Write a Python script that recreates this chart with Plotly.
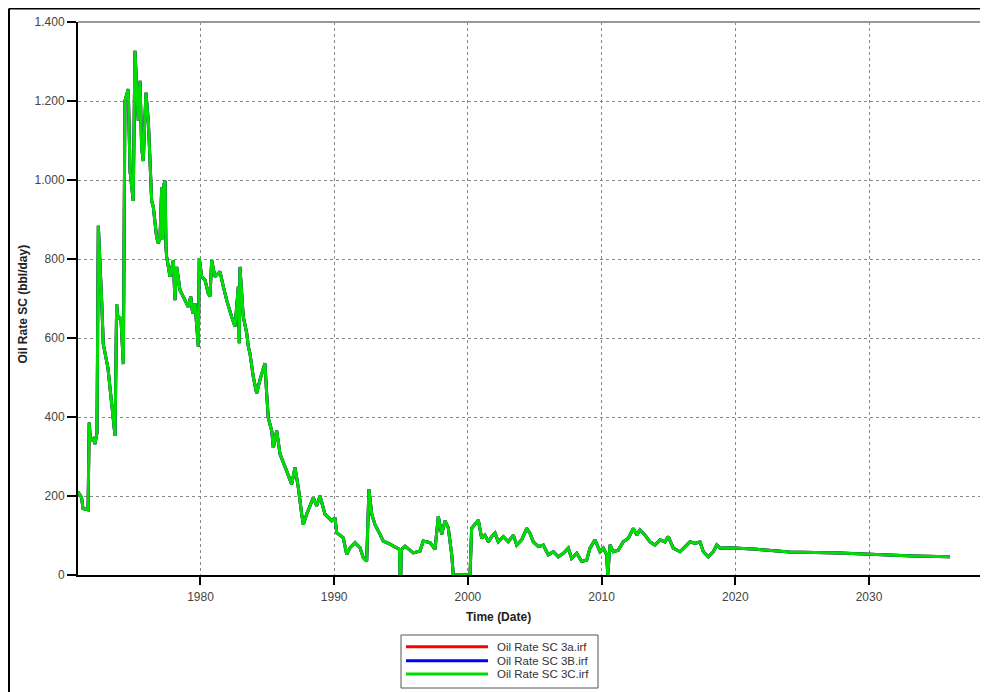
import plotly.graph_objects as go

# Decimal years and oil rate (bbl/day)
years = [1970.82, 1971.11, 1971.21, 1971.59, 1971.68, 1971.77, 1971.96, 1972.11, 1972.26, 1972.36,
         1972.61, 1972.73, 1973.08, 1973.36, 1973.61, 1973.73, 1973.83, 1974.05, 1974.23, 1974.35,
         1974.60, 1974.73, 1974.97, 1975.10, 1975.35, 1975.48, 1975.60, 1975.72, 1975.92, 1976.10,
         1976.22, 1976.35, 1976.47, 1976.72, 1976.84, 1976.97, 1977.10, 1977.16, 1977.27, 1977.35,
         1977.42, 1977.47, 1977.72, 1977.97, 1978.09, 1978.22, 1978.47, 1978.71, 1979.09, 1979.27,
         1979.42, 1979.59, 1979.72, 1979.84, 1979.91, 1980.09, 1980.34, 1980.58, 1980.71, 1980.84,
         1981.08, 1981.46, 1981.71, 1981.96, 1982.33, 1982.58, 1982.75, 1982.83, 1982.90, 1982.95,
         1983.20, 1983.46, 1983.58, 1983.70, 1983.95, 1984.20, 1984.45, 1984.82, 1984.95,
         1985.07, 1985.33, 1985.45, 1985.70, 1985.95, 1986.45,
         1986.82, 1987.07, 1987.32, 1987.57, 1987.69, 1987.94, 1988.44, 1988.69, 1988.94, 1989.31,
         1989.81, 1990.06, 1990.19, 1990.68, 1990.94, 1991.18, 1991.56, 1991.93, 1992.18, 1992.43,
         1992.60, 1992.81, 1993.05, 1993.43, 1993.67, 1994.17, 1994.67, 1994.88, 1994.92, 1994.98,
         1995.03, 1995.30, 1995.92, 1996.42, 1996.66, 1997.17, 1997.54, 1997.79, 1998.04, 1998.29,
         1998.53, 1998.79, 1998.91, 2000.16, 2000.28, 2000.78, 2001.03, 2001.28, 2001.53, 2001.78,
         2002.03, 2002.27, 2002.65, 2003.02, 2003.40, 2003.65, 2004.02, 2004.40, 2004.64, 2004.89,
         2005.27, 2005.64, 2006.01, 2006.39, 2006.76, 2007.14, 2007.51, 2007.76, 2008.14, 2008.51,
         2008.89, 2009.13, 2009.51, 2009.88, 2010.13, 2010.38, 2010.46, 2010.63, 2010.88, 2011.25,
         2011.62, 2012.00, 2012.37, 2012.63, 2012.87, 2013.25, 2013.62, 2013.99, 2014.37, 2014.74,
         2014.99, 2015.36, 2015.86, 2016.24, 2016.61, 2016.99, 2017.36, 2017.61, 2017.98, 2018.36,
         2018.61, 2018.86, 2019.60, 2021.60, 2024.09, 2027.83, 2030.08, 2033.31, 2036.06]
oil_rate = [211, 196, 168, 165, 386, 340, 345, 332, 360, 884,
            694, 585, 524, 440, 352, 686, 651, 650, 534, 1200,
            1230, 1023, 947, 1327, 1150, 1251, 1082, 1048, 1221, 1150,
            1040, 947, 932, 856, 840, 850, 981, 850, 990, 998,
            830, 806, 755, 797, 696, 780, 721, 705, 679, 705,
            662, 688, 637, 578, 802, 755, 747, 713, 705, 797,
            755, 768, 730, 696, 654, 629, 696, 730, 587, 780,
            654, 612, 578, 561, 502, 460, 494, 536, 460,
            398, 365, 322, 365, 306, 263,
            230, 272, 221, 154, 128, 154, 196, 175, 200, 154,
            137, 145, 107, 94, 52, 69, 82, 69, 44, 35,
            217, 154, 128, 103, 86, 78, 69, 65, 0, 0,
            65, 73, 56, 61, 86, 82, 65, 149, 103, 137,
            120, 52, 0, 0, 118, 139, 93, 101, 84, 97,
            106, 84, 97, 84, 101, 76, 89, 118, 106, 84,
            72, 76, 51, 59, 46, 55, 68, 42, 55, 34,
            38, 68, 89, 59, 68, 51, 0, 76, 59, 63,
            84, 93, 118, 101, 114, 101, 84, 76, 89, 84,
            97, 68, 59, 72, 84, 80, 84, 59, 46, 59,
            76, 68, 69, 65, 58, 56, 52, 48, 46]

series_names = ["Oil Rate SC 3a.irf", "Oil Rate SC 3B.irf", "Oil Rate SC 3C.irf"]
series_colors = ["#ff0000", "#0000ff", "#00dd00"]

x_ticks = [1980, 1990, 2000, 2010, 2020, 2030]
y_ticks = [0, 200, 400, 600, 800, 1000, 1200, 1400]
y_tick_text = ["0", "200", "400", "600", "800", "1.000", "1.200", "1.400"]

fig = go.Figure()
for name, color in zip(series_names, series_colors):
    fig.add_trace(go.Scatter(x=years, y=oil_rate, mode="lines", name=name,
                             line=dict(color=color, width=3), showlegend=False))

font_family = "Liberation Sans, Arial, sans-serif"

# geometry of the figure (the page adds an 8px body margin)
W, H = 980, 684
L, T, B = 70, 14, 117
PW, PH = W - L, H - T - B


def px(xl):
    return (xl - L) / PW


def py(yl):
    return (H - B - yl) / PH


fig.update_layout(
    width=W, height=H,
    margin=dict(l=L, r=0, t=T, b=B, autoexpand=False),
    paper_bgcolor="white", plot_bgcolor="white",
    font=dict(family=font_family, size=11, color="#333"),
    showlegend=False,
    xaxis=dict(range=[1970.84, 2038.9], tickvals=x_ticks, ticktext=[str(t) for t in x_ticks],
               showgrid=True, gridcolor="#888", griddash="dot", gridwidth=1,
               showline=True, linecolor="black", linewidth=2,
               ticks="outside", ticklen=8, tickwidth=2, tickcolor="black",
               ticklabelstandoff=2,
               tickfont=dict(size=12, color="#444"), zeroline=False),
    yaxis=dict(range=[0, 1400], tickvals=y_ticks, ticktext=y_tick_text,
               showgrid=True, gridcolor="#888", griddash="dot", gridwidth=1,
               showline=True, linecolor="black", linewidth=2,
               ticks="outside", ticklen=9, tickwidth=2, tickcolor="black",
               tickfont=dict(size=12, color="#444"), zeroline=False),
)

# top border of plot area (solid gray)
fig.add_shape(type="line", xref="paper", yref="paper", x0=0, x1=1, y0=1, y1=1,
              line=dict(color="#999", width=2))
# outer frame (left and top)
fig.add_shape(type="line", xref="paper", yref="paper", x0=px(1), x1=px(1), y0=py(H + 5), y1=py(0.5),
              line=dict(color="black", width=2))
fig.add_shape(type="line", xref="paper", yref="paper", x0=px(1), x1=1.0, y0=py(0.5), y1=py(0.5),
              line=dict(color="black", width=2))

# legend box
fig.add_shape(type="rect", xref="paper", yref="paper", x0=px(393), x1=px(590), y0=py(680), y1=py(627),
              line=dict(color="#555", width=1), fillcolor="white")
row_y = [638.7, 652.7, 666.0]
for name, color, ry in zip(series_names, series_colors, row_y):
    fig.add_shape(type="line", xref="paper", yref="paper", x0=px(398), x1=px(480), y0=py(ry), y1=py(ry),
                  line=dict(color=color, width=3))
    fig.add_annotation(text=name, xref="paper", yref="paper", x=px(487), y=py(ry),
                       xanchor="left", yanchor="middle", showarrow=False,
                       font=dict(size=11.5, color="#333"))

fig.add_annotation(text="<b>Time (Date)</b>", xref="paper", yref="paper",
                   x=px(490), y=py(608.7), xanchor="center", yanchor="middle", showarrow=False,
                   font=dict(size=12, color="#222"))
fig.add_annotation(text="<b>Oil Rate SC (bbl/day)</b>", xref="paper", yref="paper",
                   x=px(14.5), y=py(296), xanchor="center", yanchor="middle",
                   showarrow=False, textangle=-90,
                   font=dict(size=12, color="#222"))

fig.write_html("out.html")
